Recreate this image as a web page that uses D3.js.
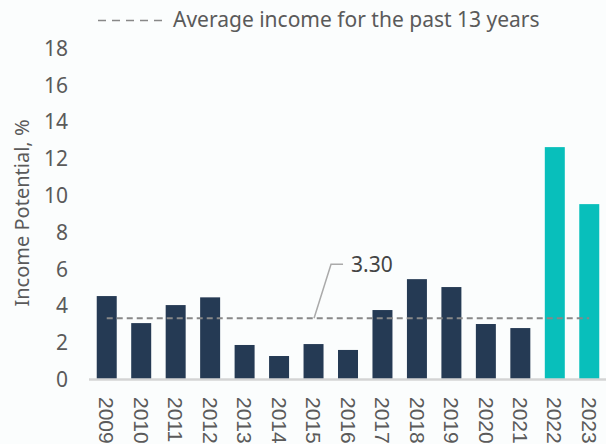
<!DOCTYPE html>
<html>
<head>
    <meta charset="utf-8">
    <script src="https://d3js.org/d3.v7.min.js"></script>
    <style>
        body {
            margin: 0;
            background-color: #fbfdfd;
            font-family: "Noto Sans", "Open Sans", sans-serif;
        }
        .tick text {
            fill: #5a5a5a;
        }
    </style>
</head>
<body>
    <svg width="606" height="444"></svg>
    <script>
        // data
        var years = ["2009", "2010", "2011", "2012", "2013", "2014", "2015", "2016",
            "2017", "2018", "2019", "2020", "2021", "2022", "2023"];
        var income = [4.51, 3.04, 4.02, 4.44, 1.85, 1.25, 1.90, 1.58,
            3.75, 5.43, 5.00, 2.99, 2.77, 12.61, 9.51];
        var highlighted = ["2022", "2023"];
        var average = 3.30;
        var yTicks = [0, 2, 4, 6, 8, 10, 12, 14, 16, 18];
        var legendText = "Average income for the past 13 years";
        var yTitle = "Income Potential, %";

        var svg = d3.select("svg");
        var textColor = "#5a5a5a";

        var x = d3.scaleBand()
            .domain(years)
            .range([89.5, 606.5])
            .paddingInner(0.42)
            .paddingOuter(0.21);

        var y = d3.scaleLinear()
            .domain([0, 18])
            .range([379, 48]);

        var data = years.map(function (d, i) {
            return { year: d, value: income[i] };
        });

        // y axis labels, no line
        var yAxis = svg.append("g")
            .attr("transform", "translate(68,0)")
            .call(d3.axisLeft(y).tickValues(yTicks).tickSize(0).tickPadding(0));
        yAxis.select(".domain").remove();
        yAxis.selectAll("text")
            .style("font-size", "21px")
            .style("font-family", "Noto Sans")
            .attr("dy", "0.35em");

        svg.append("text")
            .attr("transform", "translate(29,213) rotate(-90)")
            .attr("text-anchor", "middle")
            .attr("fill", textColor)
            .style("font-size", "20px")
            .text(yTitle);

        // bars
        svg.selectAll(".bar")
            .data(data)
            .enter().append("rect")
            .attr("class", "bar")
            .attr("x", function (d) { return x(d.year); })
            .attr("width", x.bandwidth())
            .attr("y", function (d) { return y(d.value); })
            .attr("height", function (d) { return y(0) - y(d.value); })
            .attr("fill", function (d) {
                return highlighted.indexOf(d.year) >= 0 ? "#08bfbb" : "#253a54";
            });

        // baseline
        svg.append("line")
            .attr("x1", 89)
            .attr("x2", 606)
            .attr("y1", y(0) + 0.5)
            .attr("y2", y(0) + 0.5)
            .attr("stroke", "#d4d4d4")
            .attr("stroke-width", 2.5);

        // x axis labels, rotated
        var xAxis = svg.append("g")
            .attr("transform", "translate(0," + (y(0) + 18) + ")")
            .call(d3.axisBottom(x).tickSize(0).tickPadding(0));
        xAxis.select(".domain").remove();
        xAxis.selectAll("text")
            .style("font-size", "21px")
            .attr("transform", "rotate(90)")
            .attr("text-anchor", "start")
            .attr("x", 0)
            .attr("y", 0)
            .attr("dy", "0.35em");

        // average line
        var first = years[0], last = years[years.length - 1];
        svg.append("line")
            .attr("x1", x(first) + x.bandwidth() / 2)
            .attr("x2", x(last) + x.bandwidth() / 2)
            .attr("y1", y(average))
            .attr("y2", y(average))
            .attr("stroke", "#888888")
            .attr("stroke-width", 2)
            .attr("stroke-dasharray", "6,4");

        // callout for the average
        var cx = x("2015") + x.bandwidth() / 2 + 0.5;
        var labelY = y(average) - 54;
        svg.append("polyline")
            .attr("points", [[cx, y(average)], [cx + 17, labelY], [cx + 29, labelY]].join(" "))
            .attr("fill", "none")
            .attr("stroke", "#aaaaaa")
            .attr("stroke-width", 1.5);

        svg.append("text")
            .attr("x", cx + 37)
            .attr("y", labelY)
            .attr("dy", "0.35em")
            .attr("fill", "#444444")
            .style("font-size", "21px")
            .text(d3.format(".2f")(average));

        // legend
        svg.append("line")
            .attr("x1", 98)
            .attr("x2", 162)
            .attr("y1", 20.5)
            .attr("y2", 20.5)
            .attr("stroke", "#888888")
            .attr("stroke-width", 1.5)
            .attr("stroke-dasharray", "8,6");

        svg.append("text")
            .attr("x", 173)
            .attr("y", 20)
            .attr("dy", "0.35em")
            .attr("fill", textColor)
            .style("font-size", "21px")
            .text(legendText);
    </script>
</body>
</html>
